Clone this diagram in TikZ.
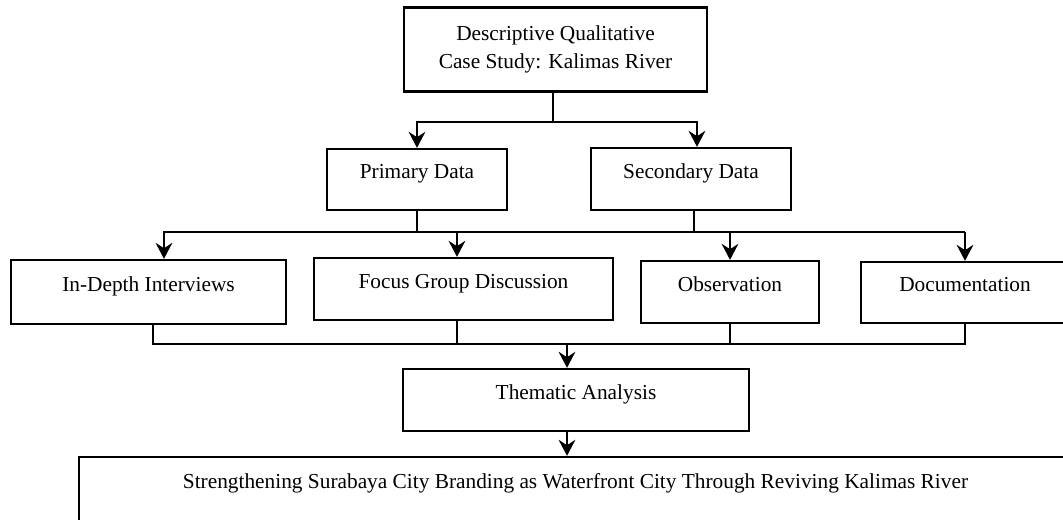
\documentclass[tikz,border=0pt]{standalone}
\usepackage{fontspec}
\setmainfont{Liberation Serif}
\usetikzlibrary{arrows.meta}
\tikzset{
  box/.style 2 args={draw, line width=1.7pt, inner sep=0pt,
    minimum width=#1*0.75pt, minimum height=#2*0.75pt,
    text height=11pt, text depth=12pt},
  link/.style={line width=1.7pt},
  arrow/.style={link, -{Stealth[length=12pt, width=12.5pt, inset=4pt]}}
}
\begin{document}
\begin{tikzpicture}[x=0.75pt, y=-0.75pt, font=\fontsize{16}{21.5}\selectfont]
\useasboundingbox (0,0) rectangle (1063,519);
\clip (0,0) rectangle (1063,519);
% boxes
\node[draw, line width=1.7pt, minimum width=303*0.75pt, minimum height=84*0.75pt,
  align=center] (design) at (555.5,49.5) {Descriptive Qualitative\\Case Study: Kalimas River};
\node[box={180}{61}] (prim) at (417,179.5) {Primary Data};
\node[box={200}{62}] (sec) at (691,179) {Secondary Data};
\node[box={275}{64}] (ind) at (148.5,292) {In-Depth Interviews};
\node[box={299}{62}] (fgd) at (463.5,289) {Focus Group Discussion};
\node[box={178}{62}] (obs) at (730,292) {Observation};
\node[box={208}{61}] (doc) at (965,292.5) {Documentation};
\node[box={346}{62}] (them) at (576,400) {Thematic Analysis};
\node[box={993}{64}] (res) at (575.5,489)
  {Strengthening Surabaya City Branding as Waterfront City Through Reviving Kalimas River};
% connectors
\coordinate (busA) at (0,122);
\coordinate (busB) at (0,232);
\coordinate (busC) at (0,344);
\draw[arrow] ([xshift=-1.9pt]design.south) |- (prim.north |- busA) -- (prim.north);
\draw[arrow] ([xshift=-1.9pt]design.south) |- ([xshift=4.5pt]sec.north |- busA) -- ([xshift=4.5pt]sec.north);
\draw[link] (prim.south) -- (prim.south |- busB);
\draw[link] ([xshift=2.25pt]sec.south) -- ([xshift=2.25pt]sec.south |- busB);
\draw[arrow] (doc.north |- busB) -| ([xshift=11.6pt]ind.north);
\draw[arrow] ([xshift=-4.9pt]fgd.north |- busB) -- ([xshift=-4.9pt]fgd.north);
\draw[arrow] (obs.north |- busB) -- (obs.north);
\draw[arrow] (doc.north |- busB) -- (doc.north);
\draw[link] ([xshift=3.4pt]ind.south) |- (doc.south |- busC) -- (doc.south);
\draw[link] ([xshift=-4.9pt]fgd.south) -- ([xshift=-4.9pt]fgd.south |- busC);
\draw[link] (obs.south) -- (obs.south |- busC);
\draw[arrow] ([xshift=-6.75pt]them.north |- busC) -- ([xshift=-6.75pt]them.north);
\draw[arrow] ([xshift=-6.75pt]them.south) -- ([xshift=-6.75pt]them.south |- res.north);
\end{tikzpicture}
\end{document}
